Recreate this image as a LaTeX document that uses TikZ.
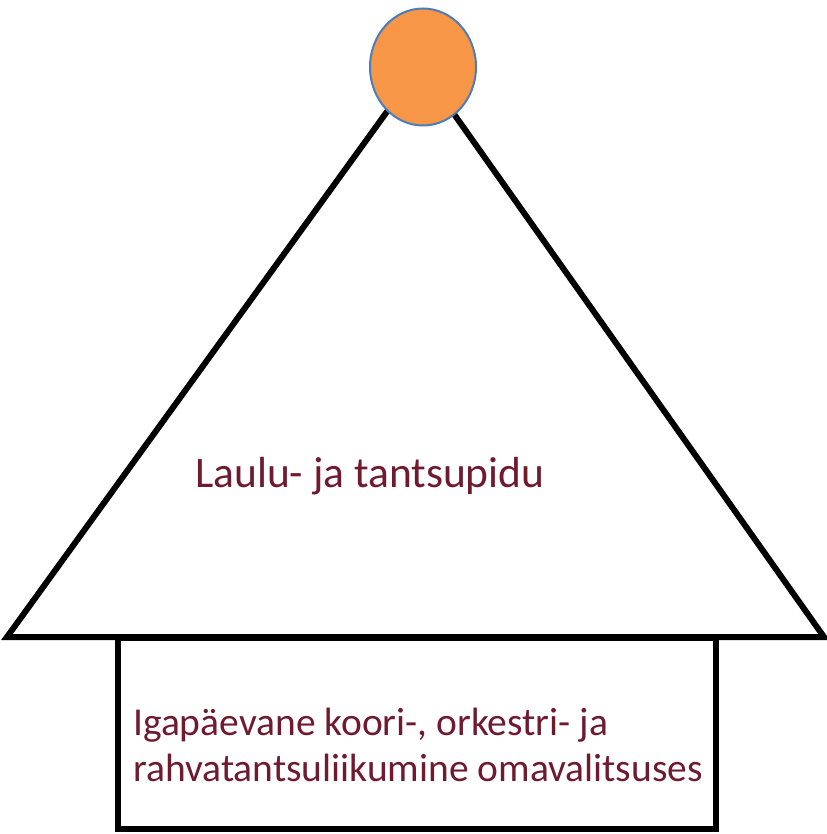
\documentclass[tikz,border=0pt]{standalone}
\usepackage{fontspec}
\setmainfont{Carlito}
\usepackage{tikz}
\usetikzlibrary{positioning,calc,shapes.geometric}
\definecolor{FOrange}{HTML}{F79646}
\definecolor{FBlue}{HTML}{4A7EBB}
\definecolor{FWine}{HTML}{701A30}
\definecolor{FInk}{HTML}{000000}

\begin{document}
\begin{tikzpicture}[x=1pt,y=-1pt,every node/.style={align=left}]
\useasboundingbox (0,0) rectangle (826,834);
% roof
\coordinate (top) at (420,66);
\coordinate (left) at (7,637);
\coordinate (right) at (824,637);
\draw[line width=6pt, draw=FInk, line join=miter] (left) -- (top) -- (right) -- cycle;
% house
\draw[line width=5.5pt, draw=FInk] (118,638) rectangle (716,829);
% ball on the top
\node[ellipse, minimum width=106pt, minimum height=117pt, fill=FOrange,
      draw=FBlue, line width=2pt, inner sep=0] (ball) at (423,67) {};
% labels
\node[anchor=base west, inner sep=0, text=FWine, font=\fontsize{43.5}{50}\selectfont]
     (fest) at (195,487) {Laulu- ja tantsupidu};
\node[anchor=west, inner sep=0, text=FWine, font=\fontsize{39.5}{46}\selectfont]
     (daily) at (133,745) {Igapäevane koori-, orkestri- ja\\
      rahvatantsuliikumine omavalitsuses};
\end{tikzpicture}
\end{document}
